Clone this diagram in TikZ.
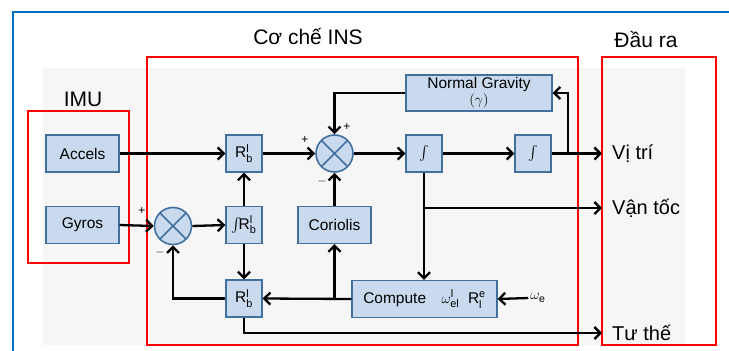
\documentclass[tikz,border=0pt]{standalone}
\usepackage{amsmath}
\usepackage{fontspec}
\setmainfont{Liberation Sans}
\setsansfont{Liberation Sans}
\usetikzlibrary{arrows.meta,calc}
\definecolor{fillc}{RGB}{201,218,238}
\definecolor{bordc}{RGB}{66,112,158}
\definecolor{bgc}{RGB}{246,246,246}
\definecolor{redc}{RGB}{255,0,0}
\definecolor{bluec}{RGB}{0,112,192}
\newcommand{\Rbl}{R$^{\text{l}}_{\text{b}}$}
\begin{document}
\begin{tikzpicture}[x=1pt,y=-1pt,
  blk/.style={draw=bordc, fill=fillc, line width=1.4pt, inner sep=0pt,
    minimum height=37pt, font=\fontsize{15.5}{17}\selectfont},
  sq/.style={blk, minimum width=36pt},
  wide/.style={blk, minimum width=73pt},
  sumc/.style={circle, draw=bordc, fill=fillc, line width=1.6pt, minimum size=37pt, inner sep=0pt,
    path picture={\draw[bordc, line width=1.6pt]
      (path picture bounding box.north west) -- (path picture bounding box.south east)
      (path picture bounding box.north east) -- (path picture bounding box.south west);}},
  conn/.style={line width=2.3pt, -{Straight Barb[length=6pt,width=12pt]}},
  lbl/.style={font=\fontsize{21}{24}\selectfont, inner sep=0pt},
  outlbl/.style={font=\fontsize{20}{24}\selectfont, anchor=west, inner sep=0pt, inner xsep=10pt},
  sgn/.style={font=\fontsize{12}{12}\selectfont, inner sep=0pt},
  redbox/.style={draw=redc, line width=2pt}
]
\useasboundingbox (0,0) rectangle (729,351);
% background
\fill[bgc] (43,68) rectangle (685,345);
\draw[bluec, line width=2pt] (729,12) -- (13,12) -- (13,351);
% red frames
\draw[redbox] (28,111) rectangle (129,263);
\draw[redbox] (147,57) rectangle (578,345);
\draw[redbox] (602,57) rectangle (716,345);
% titles
\node[lbl] (timu) at (83,99) {IMU};
\node[lbl] (tins) at (308,37) {Cơ chế INS};
\node[lbl] (tout) at (646,40) {Đầu ra};
% blocks
\node[wide] (acc) at (82.5,153.5) {Accels};
\node[wide] (gyr) at (82.5,225) {Gyros};
\node[sumc] (s1) at (173,226) {};
\node[sq] (rt) at (244,153.5) {\Rbl};
\node[sq] (ir) at (244,225) {$\int$\!\Rbl};
\node[sq] (rb) at (244,298.5) {\Rbl};
\node[sumc] (s2) at (334.5,153.5) {};
\node[wide] (cor) at (334.5,225) {Coriolis};
\node[blk, minimum width=145pt] (comp) at (424.5,299) {Compute\quad $\omega^{\text{l}}_{\text{el}}$\ \ R$^{\text{e}}_{\text{l}}$};
\node[sq] (i1) at (424,153.5) {$\int$};
\node[sq] (i2) at (533,153.5) {$\int$};
\node[blk, minimum width=146pt, minimum height=36pt, align=center] (ng) at (479,93) {Normal Gravity\\[-1pt]$(\gamma)$};
\node[font=\fontsize{15}{17}\selectfont, inner sep=2pt] (we) at (538,298) {$\omega_{\text{e}}$};
% outputs
\node[outlbl] (vitri) at (602,153.5) {Vị trí};
\node[outlbl] (vantoc) at (602,208) {Vận tốc};
\node[outlbl] (tuthe) at (602,333) {Tư thế};
% connectors
\draw[conn] (acc.east) -- (rt.west);
\draw[conn] (rt.east) -- (s2.west);
\draw[conn] (s2.east) -- (i1.west);
\draw[conn] (i1.east) -- (i2.west);
\draw[conn] (i2.east) -- (vitri.west);
\coordinate (br1) at ($(i2.east)+(16,0)$);
\draw[conn] (br1) |- (ng.east);
\draw[conn] (ng.west) -| (s2.north);
\draw[conn] (cor.north) -- (s2.south);
\draw[conn] (i1.south) -- (i1.south |- comp.north);
\draw[conn] (i1.south |- vantoc.west) -- (vantoc.west);
\draw[conn] (comp.west) -- (rb.east);
\draw[conn] (cor.south |- comp.west) -- (cor.south);
\draw[conn] (we.west) -- (comp.east);
\draw[conn] (rb.south) |- (tuthe.west);
\draw[conn] (rb.west) -| (s1.south);
\draw[conn] (gyr.east) -- (s1.west);
\draw[conn] (s1.east) -- (ir.west);
\draw[conn] (ir.north) -- (rt.south);
\draw[conn] (ir.south) -- (rb.north);
% signs
\node[sgn] at (142,211) {+};
\node[sgn] at (160,252) {$-$};
\node[sgn] at (305,140) {+};
\node[sgn] at (347,127) {+};
\node[sgn] at (322,181) {$-$};
\end{tikzpicture}
\end{document}
